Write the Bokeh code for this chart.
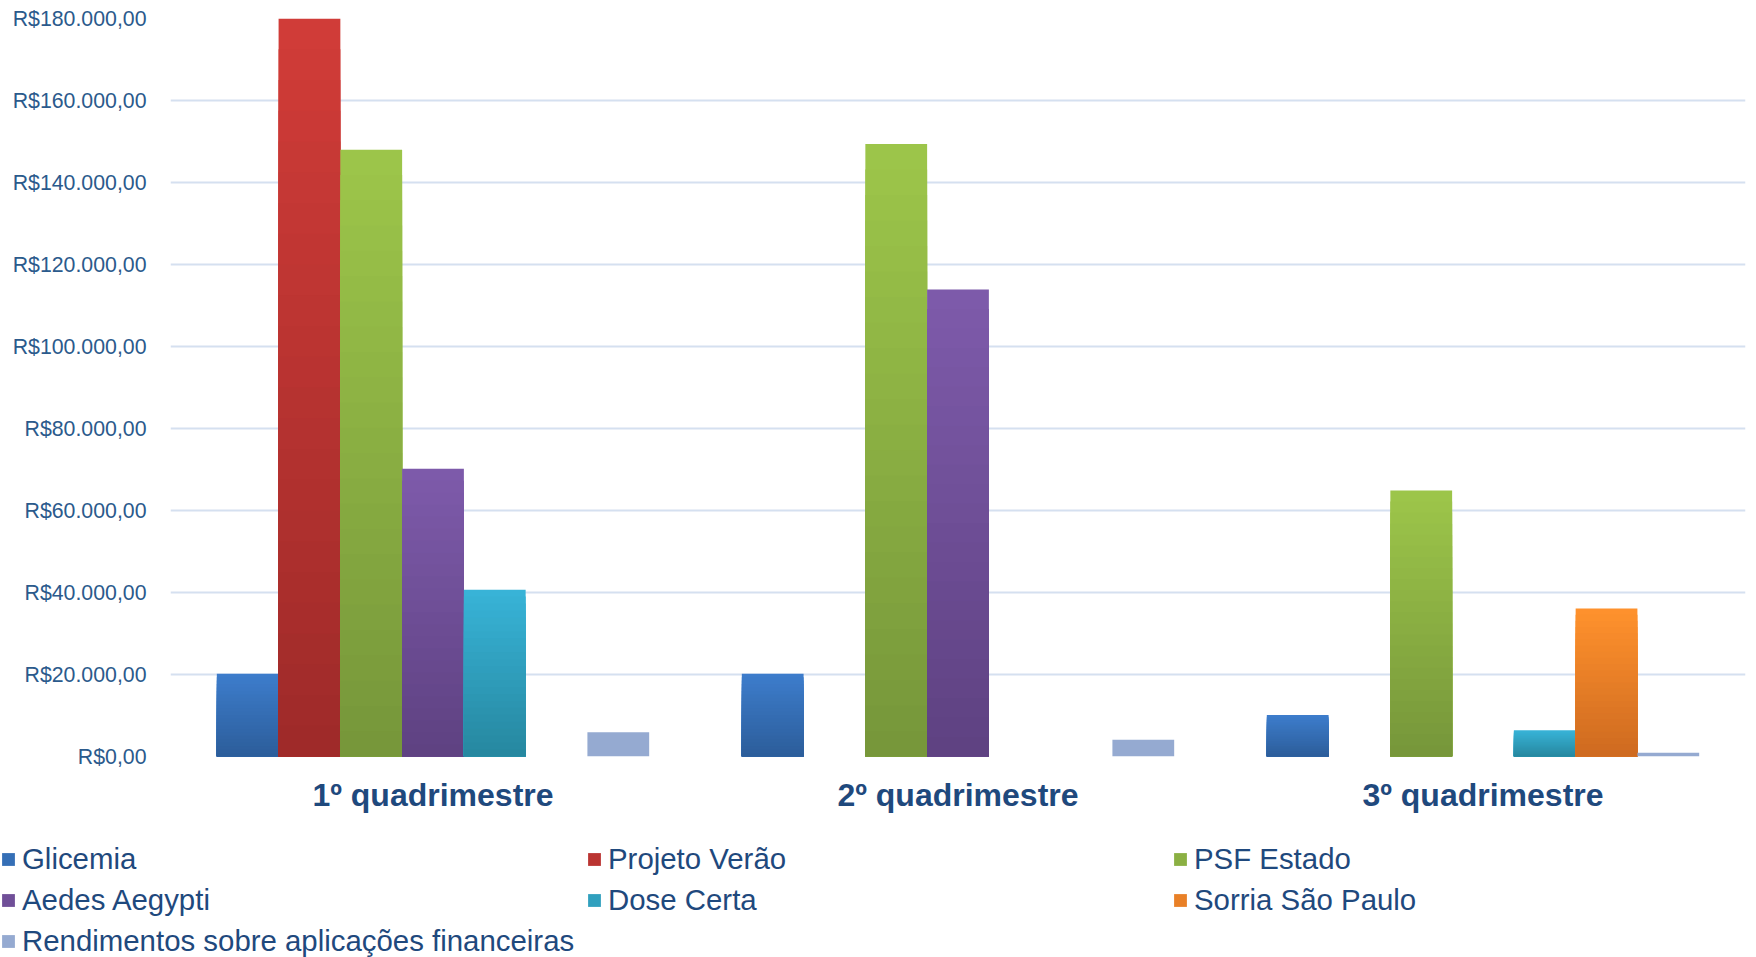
from bokeh.plotting import figure
from bokeh.layouts import column, row
from bokeh.models import ColumnDataSource, FactorRange, Legend, LegendItem, FixedTicker
from bokeh.transform import dodge
from bokeh.embed import file_html
from bokeh.resources import INLINE

# ---------------- data ----------------
quadrimestres = ["1º quadrimestre", "2º quadrimestre", "3º quadrimestre"]

series_names = ["Glicemia", "Projeto Verão", "PSF Estado", "Aedes Aegypti",
                "Dose Certa", "Sorria São Paulo",
                "Rendimentos sobre aplicações financeiras"]

glicemia = [20200, 20200, 10100]
projeto_verao = [180000, 0, 0]
psf_estado = [148000, 149400, 64900]
aedes_aegypti = [70200, 113900, 0]
dose_certa = [40700, 0, 6400]
sorria_sao_paulo = [0, 0, 36100]
rendimentos = [5900, 4100, 900]

series_values = [glicemia, projeto_verao, psf_estado, aedes_aegypti,
                 dose_certa, sorria_sao_paulo, rendimentos]

y_ticks = [0, 20000, 40000, 60000, 80000, 100000, 120000, 140000, 160000, 180000]
y_tick_labels = ["R$0,00", "R$20.000,00", "R$40.000,00", "R$60.000,00",
                 "R$80.000,00", "R$100.000,00", "R$120.000,00", "R$140.000,00",
                 "R$160.000,00", "R$180.000,00"]

# ---------------- style ----------------
colors_top = ["#3D7DCC", "#D13C38", "#9DC64A", "#7E5BAB", "#38B4D8", "#FF922D", "#95AAD1"]
colors_bottom = ["#2C5D9A", "#9E2A29", "#76963A", "#5E4181", "#26879F", "#CE6A20", "#95AAD1"]
FONT = "Liberation Sans"
N_SLICES = 24
TOTAL_W = 1748


def hex_to_rgb(h):
    h = h.lstrip("#")
    return tuple(int(h[i:i + 2], 16) for i in (0, 2, 4))


def mix(c1, c2, t):
    a, b = hex_to_rgb(c1), hex_to_rgb(c2)
    return "#%02x%02x%02x" % tuple(int(round(a[i] + (b[i] - a[i]) * t)) for i in range(3))


p = figure(x_range=FactorRange(factors=quadrimestres, range_padding=0),
           y_range=(0, 180000),
           width=TOTAL_W, height=816,
           min_border_left=170, min_border_right=3,
           min_border_top=18, min_border_bottom=60,
           output_backend="svg", toolbar_location=None)

n = len(series_names)
w = 1.0 / (n + 1.5)
for i, (name, vals) in enumerate(zip(series_names, series_values)):
    off = (i - (n - 1) / 2) * w
    flat = colors_top[i] == colors_bottom[i]
    slices = 1 if flat else N_SLICES
    for k in reversed(range(slices)):
        frac = (k + 1) / slices
        col = colors_top[i] if flat else mix(colors_bottom[i], colors_top[i], (k + 0.5) / slices)
        src = ColumnDataSource(dict(x=quadrimestres, top=[v * frac for v in vals]))
        p.vbar(x=dodge("x", off, range=p.x_range), top="top", width=w,
               source=src, fill_color=col, line_color=None)

# axes
p.yaxis.ticker = FixedTicker(ticks=y_ticks)
p.yaxis.major_label_overrides = {t: l for t, l in zip(y_ticks, y_tick_labels)}
p.yaxis.major_label_text_font = FONT
p.yaxis.major_label_text_font_size = "21.3px"
p.yaxis.major_label_text_color = "#2B5A8C"
p.yaxis.major_label_standoff = 24
p.yaxis.major_tick_out = 0
p.yaxis.major_tick_in = 0
p.yaxis.axis_line_color = None
p.yaxis.major_tick_line_color = None
p.yaxis.minor_tick_line_color = None

p.xaxis.major_label_text_font = FONT
p.xaxis.major_label_text_font_size = "32px"
p.xaxis.major_label_text_font_style = "bold"
p.xaxis.major_label_text_color = "#1F497D"
p.xaxis.major_label_standoff = 20
p.xaxis.major_tick_out = 0
p.xaxis.major_tick_in = 0
p.xaxis.axis_line_color = None
p.xaxis.major_tick_line_color = None
p.xaxis.minor_tick_line_color = None

p.xgrid.grid_line_color = None
p.ygrid.grid_line_color = "#D5E0F0"
p.ygrid.grid_line_width = 2
p.outline_line_color = None
p.background_fill_color = "white"
p.border_fill_color = "white"

# ---------------- legend (separate strip below the chart) ----------------
pl = figure(width=TOTAL_W, height=141, x_range=(0, 1), y_range=(0, 1),
            x_axis_type=None, y_axis_type=None,
            min_border=0, output_backend="svg", toolbar_location=None)
pl.outline_line_color = None
pl.background_fill_color = "white"
pl.border_fill_color = "white"

legend_items = []
for i, name in enumerate(series_names):
    # one off-range placeholder row so the legend swatch is drawn
    src = ColumnDataSource(dict(x=[-10], top=[0]))
    r = pl.vbar(x="x", top="top", width=0.1, source=src,
                fill_color=mix(colors_bottom[i], colors_top[i], 0.55), line_color=None)
    legend_items.append(LegendItem(label=name, renderers=[r]))

legend = Legend(items=legend_items, orientation="horizontal", ncols=3,
                location=(0, -4))
legend.label_text_font = FONT
legend.label_text_font_size = "29.4px"
legend.label_text_color = "#1F497D"
legend.glyph_width = 16
legend.glyph_height = 16
legend.label_standoff = 6
legend.label_width = 564
legend.label_height = 41
legend.spacing = 0
legend.padding = 0
legend.margin = 0
legend.border_line_color = None
legend.background_fill_alpha = 0
pl.add_layout(legend, "center")

layout = column(p, row(pl), spacing=0)
open("out.html", "w").write(file_html(layout, INLINE))
